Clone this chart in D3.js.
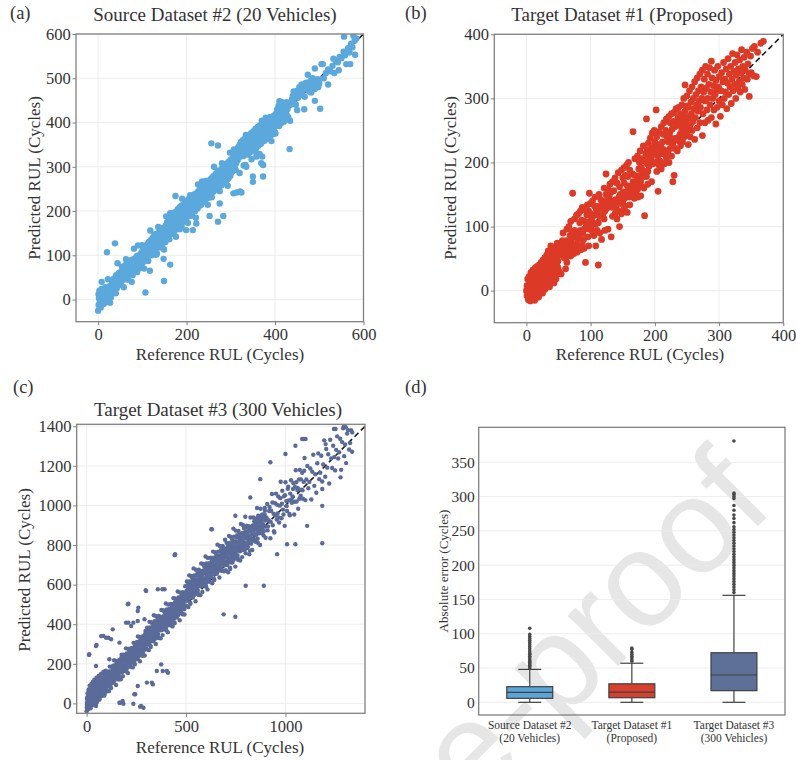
<!DOCTYPE html>
<html>
<head>
<meta charset="utf-8">
<script src="https://cdn.jsdelivr.net/npm/d3@7"></script>
<style>
  body { margin: 0; background: #ffffff; }
  svg { display: block; }
  svg text { font-family: "Liberation Serif", "Times New Roman", Times, serif; }
</style>
</head>
<body>
<svg id="fig" width="796" height="760"></svg>
<script>
// ---------------------------------------------------------------
// Data: [reference RUL, predicted RUL] in cycles
// ---------------------------------------------------------------
const sourcePoints = [
  [0,-25],[1,-12],[2,3],[1,12],[3,20],[4,-5],[5,8],[6,15],[6,-18],[7,2],[8,24],[9,-8],[10,10],[10,0],[11,18],[12,-10],[13,5],[14,22],[15,-3],[15,12],[16,28],[17,6],[18,-6],[19,15],[20,22],[21,3],[22,12],[23,26],[24,8],[25,18],[26,30],[27,14],[28,22],[29,5],[30,32],[20,107],[38,127],
  [31,20],[32,38],[33,28],[34,45],[35,15],[36,35],[38,48],[39,30],[40,42],[41,55],[42,25],[43,38],[45,52],[46,40],[47,60],[48,33],[50,48],[51,62],[52,40],[53,55],[55,68],[56,45],[57,58],[58,72],[60,50],[61,64],[62,78],[63,56],[65,70],[66,60],[67,82],[68,52],[70,74],[71,64],[72,86],[73,60],[75,78],[76,68],[77,90],[78,55],[80,82],[81,72],[82,92],[83,65],[85,85],[86,75],[87,98],[88,62],[90,88],[91,78],[92,100],[93,70],[95,92],[96,82],[97,104],[98,75],[100,95],[100,110],
  [101,84],[102,105],[103,118],[104,92],[105,112],[106,100],[107,16],[108,122],[109,96],[110,110],[111,125],[112,102],[113,88],[114,118],[115,130],[116,106],[117,65],[118,122],[119,110],[120,135],[121,100],[122,126],[123,115],[124,140],[125,108],[126,130],[127,120],[128,142],[129,112],[130,132],[131,124],[132,148],[133,104],[134,136],[135,126],[136,150],[137,118],[138,140],[139,130],[140,155],[141,120],[142,145],[143,134],[144,160],[145,124],[146,148],[148,92],[149,42],[150,140],[150,162],[151,152],[152,130],[153,168],[154,145],[155,158],[156,175],[157,140],[158,165],[159,152],[160,180],[161,136],[162,170],[163,79],[163,158],[164,185],[165,148],[166,175],[167,162],[168,190],[169,150],[170,180],[171,168],[172,195],[173,155],[174,185],[175,234],[175,172],[176,198],[177,160],[178,188],[179,176],[180,204],[181,160],[182,192],[183,180],[184,208],[185,168],[186,196],[187,184],[188,212],[189,165],[190,200],[191,188],[192,214],[193,176],[194,204],[195,192],[196,218],[197,180],[198,208],[199,157],[199,196],[200,222],[200,185],
  [202,206],[203,194],[204,226],[205,212],[206,200],[207,230],[208,216],[209,190],[210,220],[211,208],[212,234],[213,218],[214,157],[215,204],[216,228],[217,214],[218,238],[219,200],[220,224],[221,212],[222,172],[222,240],[223,218],[224,228],[225,206],[226,244],[227,222],[228,232],[229,212],[230,248],[231,226],[232,236],[233,214],[234,252],[235,230],[236,240],[237,220],[238,256],[239,234],[240,244],[241,222],[242,260],[243,238],[244,248],[245,228],[246,264],[247,242],[248,252],[249,230],[250,268],[251,246],[252,189],[252,256],[253,236],[254,272],[255,250],[256,353],[256,260],[257,240],[258,276],[259,254],[260,264],[261,244],[262,280],[263,258],[264,268],[265,248],[266,284],[267,262],[268,272],[269,250],[270,288],[271,348],[271,176],[272,266],[273,278],[274,254],[275,217],[275,292],[276,270],[278,282],[279,258],[280,296],[281,274],[282,286],[283,189],[283,262],[284,300],[285,278],[286,290],[287,266],[288,304],[289,282],[290,294],[291,270],[292,308],[293,286],[294,298],[295,274],[296,312],[297,290],[298,302],[299,280],[300,316],[300,295],
  [302,306],[303,290],[304,320],[305,300],[306,240],[307,312],[308,326],[309,298],[310,318],[311,334],[312,308],[313,242],[313,322],[314,340],[315,314],[316,328],[317,344],[318,320],[319,334],[320,350],[321,244],[321,326],[322,340],[323,356],[324,242],[324,330],[325,346],[326,336],[327,360],[328,324],[329,342],[330,352],[331,334],[332,364],[333,304],[333,346],[334,356],[335,300],[335,338],[336,368],[337,350],[338,328],[339,360],[340,342],[341,372],[342,354],[343,332],[344,364],[345,346],[346,376],[347,358],[348,336],[349,368],[350,266],[350,278],[350,350],[351,380],[352,362],[353,340],[354,372],[355,354],[356,386],[357,366],[358,323],[358,344],[359,376],[360,358],[361,390],[362,370],[363,348],[364,380],[365,362],[366,394],[367,374],[368,352],[369,308],[370,384],[371,323],[371,366],[372,396],[373,304],[373,278],[374,378],[375,358],[376,388],[377,370],[378,400],[379,382],[380,362],[381,392],[382,374],[383,404],[384,386],[385,366],[386,396],[387,378],[388,408],[389,390],[390,370],[391,400],[392,382],[393,412],[394,394],[395,374],[396,404],[397,386],[398,416],[399,398],[400,378],[400,408],
  [402,420],[403,395],[404,412],[405,430],[406,400],[407,418],[408,438],[409,392],[410,424],[411,410],[412,442],[413,398],[414,428],[415,416],[416,446],[417,404],[418,432],[419,420],[420,402],[421,436],[422,412],[423,426],[425,440],[426,418],[428,430],[430,412],[433,340],[435,440],[438,452],[440,460],[442,448],[445,466],[447,440],[450,472],[452,456],[455,480],[457,462],[460,486],[462,470],[465,478],[467,458],[470,490],[472,476],[475,484],[477,470],[480,494],[482,480],[485,500],[487,486],[490,449],[490,476],[492,492],[495,482],[497,498],[500,488],[502,431],[505,532],[510,500],[515,512],[520,520],[525,516],[530,528],[534,512],[538,540],[542,536],[546,548],[550,545],[555,560],[558,552],[561,532],[565,568],[568,560],[570,532],[572,578],[575,570],[577,596],[580,585],[581,553],[584,590],
  [8,40],[14,-4],[22,46],[27,-7],[34,46],[40,14],[44,82],[49,39],[54,74],[58,28],[63,91],[67,45],[72,88],[76,40],[81,115],[86,72],
  [90,122],[95,77],[99,123],[104,70],[108,120],[113,87],[118,156],[122,112],[127,147],[131,101],[136,164],[140,118],[145,161],[149,113],[154,188],[158,144],
  [163,195],[167,149],[172,196],[176,142],[181,193],[185,159],[190,228],[194,184],[199,219],[203,173],[208,236],[212,190],[217,233],[221,185],[226,260],[230,216],
  [235,267],[239,221],[244,268],[248,214],[253,265],[257,231],[262,300],[266,256],[271,291],[275,245],[280,308],[284,262],[289,305],[293,257],[298,332],[302,288],
  [307,339],[311,293],[316,340],[320,286],[325,337],[329,303],[334,372],[338,328],[343,363],[347,317],[352,380],[356,334],[361,377],[365,329],[370,404],[374,360],
  [379,411],[383,365],[388,412],[392,358],[397,409],[401,375],[410,448],[418,408],[426,446],[434,404],[442,470],[450,428],[458,474],[466,430],[474,508],[482,468],[490,522],[498,480],[508,532],[520,486],[532,544],[544,518],[556,594],[568,558]
];

const targetPoints = [
  [0,0],[1,8],[1,-8],[2,18],[2,-3],[3,5],[3,-14],[4,22],[4,10],[5,-10],[5,2],[6,15],[6,-16],[7,28],[7,6],[8,-5],[8,12],[9,-12],[9,20],[10,3],[10,32],[11,-8],[11,14],[12,24],[12,0],[13,-15],[13,10],[14,36],[14,18],[15,4],[15,-6],[16,26],[16,12],[17,38],[17,-2],[18,20],[18,8],[19,30],[19,-10],[20,14],[20,40],[21,24],[21,2],[22,34],[22,16],[23,6],[23,44],[24,26],[24,12],[25,36],[25,-4],[26,20],[26,48],[27,30],[27,8],[28,40],[28,18],[29,52],[29,2],[30,28],[30,44],[31,14],[31,36],[32,56],[32,22],[33,10],[33,42],[34,30],[34,62],[35,18],[35,48],[36,36],[36,6],[37,54],[37,26],[38,70],[38,40],[39,16],[39,58],[40,32],[40,46],[41,64],[41,22],[42,50],[42,38],[43,12],[43,58],[44,28],[44,44],[45,68],[45,34],[46,52],[46,18],[47,40],[47,60],[48,26],[48,74],[49,46],[49,36],[50,56],[50,64],
  [51,30],[52,70],[53,58],[54,26],[55,66],[56,78],[57,60],[58,52],[59,72],[60,62],[61,50],[62,78],[63,96],[64,68],[65,56],[66,74],[67,62],[68,86],[69,54],[70,78],[71,92],[72,152],[72,70],[73,84],[74,58],[75,94],[76,66],[77,86],[78,72],[79,60],[80,80],[81,68],[82,88],[83,106],[84,94],[85,64],[86,110],[87,72],[88,90],[89,80],[90,96],[91,108],[92,126],[92,44],[93,100],[94,118],[95,134],[96,84],[97,70],[98,152],[98,96],[99,108],[100,120],
  [57,90],[61,34],[63,44],[66,100],[69,108],[75,112],[78,118],[81,120],[84,124],[87,130],[90,66],[97,124],[100,136],
  [101,100],[102,114],[103,92],[104,106],[105,86],[106,132],[107,118],[108,104],[109,126],[110,94],[111,120],[112,40],[112,106],[113,132],[114,116],[115,128],[116,142],[117,80],[118,134],[119,118],[120,130],[121,112],[122,124],[123,138],[124,150],[125,128],[126,142],[127,158],[128,134],[129,148],[130,166],[131,138],[132,154],[133,130],[134,116],[135,140],[136,156],[137,134],[138,120],[139,142],[140,128],[141,112],[142,138],[143,124],[144,146],[145,162],[146,150],[147,136],[148,120],[149,148],[150,138],
  [103,140],[107,146],[108,70],[113,150],[114,90],[121,160],[122,94],[124,182],[127,96],[132,84],[134,170],[138,176],[141,168],[143,184],[145,100],[148,188],[150,176],
  [151,154],[152,168],[153,144],[154,180],[155,152],[156,196],[157,164],[158,178],[159,160],[160,146],[161,188],[162,156],[163,148],[164,164],[165,182],[166,248],[166,170],[167,152],[168,166],[169,180],[170,160],[171,150],[172,168],[173,158],[174,174],[175,190],[176,200],[177,180],[178,170],[179,192],[180,162],[181,186],[182,226],[183,178],[184,117],[184,202],[185,186],[186,214],[187,268],[187,178],[188,198],[189,186],[190,208],[191,194],[192,216],[193,238],[194,206],[195,222],[196,212],[197,198],[198,224],[199,250],[200,216],
  [151,126],[152,192],[154,132],[157,122],[159,200],[161,134],[168,144],[169,206],[173,210],[174,146],[177,218],[178,148],[180,206],[183,160],[188,220],[189,166],[190,230],[195,170],[196,246],[200,232],
  [201,200],[202,282],[202,222],[203,186],[204,210],[205,155],[205,228],[206,196],[207,218],[208,202],[209,226],[210,190],[211,214],[212,232],[213,244],[214,220],[215,198],[216,212],[217,250],[218,206],[219,240],[220,216],[221,232],[222,200],[223,246],[224,222],[225,238],[226,210],[227,252],[228,170],[228,230],[229,264],[230,180],[230,278],[231,222],[232,256],[233,238],[234,262],[235,218],[236,270],[237,234],[238,258],[239,244],[240,276],[241,264],[242,290],[243,232],[244,272],[245,256],[246,240],[247,280],[247,321],[248,262],[249,246],[250,268],
  [203,240],[206,248],[210,256],[214,262],[218,268],[222,272],[224,262],[226,276],[233,284],[237,286],[240,226],[242,250],[245,300],[249,288],[250,304],
  [251,250],[252,286],[252,228],[253,272],[254,312],[255,258],[255,240],[256,294],[257,276],[258,318],[258,250],[259,264],[260,300],[261,284],[262,236],[262,326],[263,270],[264,306],[265,290],[266,254],[266,332],[267,280],[268,312],[269,296],[270,262],[270,338],[271,286],[272,318],[273,300],[274,242],[274,344],[275,276],[276,310],[277,330],[278,262],[278,296],[279,350],[280,316],[281,282],[282,338],[282,300],[283,266],[284,322],[285,348],[286,290],[287,310],[288,270],[288,358],[289,332],[290,300],[291,320],[292,282],[293,344],[294,306],[295,260],[295,328],[296,312],[297,286],[298,350],[299,318],[300,296],[300,334],
  [302,272],[303,312],[304,340],[305,290],[306,326],[307,356],[308,300],[309,330],[310,310],[311,346],[312,284],[313,324],[314,362],[315,306],[316,338],[317,318],[318,350],[319,292],[320,330],[321,370],[322,312],[323,342],[324,322],[325,356],[326,300],[327,336],[328,368],[329,316],[330,346],[331,326],[332,360],[333,310],[334,340],[335,376],[336,322],[337,350],[338,332],[339,364],[340,314],[341,344],[343,372],[344,330],[345,354],[347,303],[347,338],[349,366],[350,340],[352,378],[354,335],[355,381],[358,334],[360,372],[365,386],[369,389]
];

const fleetPoints = [
  [0,-40],[1,-20],[2,5],[3,30],[4,-10],[5,50],[6,15],[7,-30],[8,40],[9,0],[10,70],[11,22],[12,-15],[13,55],[14,10],[15,90],[16,35],[17,-5],[18,65],[19,20],[20,-25],[21,45],[22,80],[23,5],[24,30],[25,100],[26,55],[27,-10],[28,40],[29,75],[30,15],[31,60],[32,110],[33,25],[34,-5],[35,85],[36,45],[37,10],[38,70],[39,120],[40,30],[41,55],[42,95],[43,0],[44,65],[45,40],[46,105],[47,20],[48,80],[49,55],[50,130],[51,35],[52,75],[53,10],[54,95],[55,60],[56,40],[57,115],[58,70],[59,25],[60,90],[61,140],[62,50],[63,80],[64,30],[65,105],[66,65],[67,45],[68,125],[69,85],[70,35],[71,100],[72,60],[73,150],[74,75],[75,45],[76,110],[77,90],[78,55],[79,130],[80,70],[81,100],[82,40],[83,120],[84,85],[85,160],[86,60],[87,95],[88,135],[89,75],[90,110],[91,50],[92,145],[93,90],[94,70],[95,120],[96,165],[97,80],[98,105],[99,60],[100,140],
  [2,25],[5,-15],[8,15],[11,50],[14,-20],[17,30],[20,60],[23,-5],[26,25],[29,45],[32,0],[35,35],[38,95],[41,20],[44,90],[47,50],[50,5],[53,60],[56,100],[59,45],[62,85],[65,20],[68,75],[71,130],[74,45],[77,65],[80,115],[83,60],[86,100],[89,40],[92,80],[95,140],[98,90],[3,-25],[9,45],[18,-10],[27,70],[36,20],[45,-5],[54,120],
  [1,-7],[5,25],[9,56],[13,20],[17,44],[21,1],[25,59],[29,41],[33,85],[37,37],[41,33],[45,65],[49,96],[53,60],[57,84],[61,41],[65,99],[69,81],[73,125],[77,77],[81,73],[85,105],[89,136],[93,100],[97,124],
  [100,65],[102,122],[104,159],[106,96],[108,113],[110,150],[112,62],[114,139],[116,186],[118,98],[120,130],[122,77],[124,159],[126,186],[128,113],[130,130],[132,177],[134,104],[136,151],[138,218],[140,115],[142,192],[144,139],[146,176],[148,93],[150,215],[152,162],[154,134],[156,196],[158,163],[160,125],[162,182],[164,219],[166,156],[168,173],[170,210],[172,122],[174,199],[176,246],[178,158],[180,190],[182,137],[184,219],[186,246],[188,173],[190,190],[192,237],[194,164],[196,211],[198,278],
  [200,175],[202,252],[204,199],[206,236],[208,153],[210,275],[212,222],[214,194],[216,256],[218,223],[220,185],[222,242],[224,279],[226,216],[228,233],[230,270],[232,182],[234,259],[236,306],[238,218],[240,250],[242,197],[244,279],[246,306],[248,233],[250,250],[252,297],[254,224],[256,271],[258,338],[260,235],[262,312],[264,259],[266,296],[268,213],[270,335],[272,282],[274,254],[276,316],[278,283],[280,245],[282,302],[284,339],[286,276],[288,293],[290,330],[292,242],[294,319],[296,366],[298,278],
  [101,116],[105,85],[109,139],[113,108],[117,162],[121,81],[125,125],[129,154],[133,118],[137,172],[141,156],[145,125],[149,179],[153,148],[157,202],[161,121],[165,165],[169,194],[173,158],[177,212],[181,196],[185,165],[189,219],[193,188],[197,242],[201,161],[205,205],[209,234],[213,198],[217,252],[221,236],[225,205],[229,259],[233,228],[237,282],[241,201],[245,245],[249,274],[253,238],[257,292],[261,276],[265,245],[269,299],[273,268],[277,322],[281,241],[285,285],[289,314],[293,278],[297,332],
  [103,118],[107,95],[111,139],[115,117],[119,159],[123,118],[127,149],[131,111],[135,169],[139,149],[143,141],[147,183],[151,159],[155,179],[159,144],[163,208],[167,185],[171,163],[175,205],[179,183],[183,198],[187,175],[191,219],[195,197],[199,239],[203,198],[207,229],[211,191],[215,249],[219,229],[223,221],[227,263],[231,239],[235,259],[239,224],[243,288],[247,265],[251,243],[255,285],[259,263],[263,278],[267,255],[271,299],[275,277],[279,319],[283,278],[287,309],[291,271],[295,329],[299,309],
  [102,92],[106,127],[110,160],[114,121],[118,147],[122,99],[126,162],[130,143],[134,190],[138,137],[142,132],[146,167],[150,200],[154,161],[158,187],[162,139],[166,202],[170,183],[174,230],[178,177],[182,172],[186,207],[190,240],[194,201],[198,227],[202,179],[206,242],[210,223],[214,270],[218,217],[222,212],[226,247],[230,280],[234,241],[238,267],[242,219],[246,282],[250,263],[254,310],[258,257],[262,252],[266,287],[270,320],[274,281],[278,307],[282,259],[286,322],[290,303],[294,350],[298,297],
  [300,275],[302,340],[304,382],[306,309],[308,329],[310,371],[312,269],[314,358],[316,412],[318,310],[320,347],[322,285],[324,379],[326,410],[328,326],[330,345],[332,399],[334,314],[336,368],[338,445],[340,326],[342,415],[344,353],[346,396],[348,300],[350,440],[352,379],[354,346],[356,417],[358,379],[360,335],[362,400],[364,442],[366,369],[368,389],[370,431],[372,329],[374,418],[376,472],[378,370],[380,407],[382,345],[384,439],[386,470],[388,386],[390,405],[392,459],[394,374],[396,428],[398,505],
  [400,386],[402,475],[404,413],[406,456],[408,360],[410,500],[412,439],[414,406],[416,477],[418,439],[420,395],[422,460],[424,502],[426,429],[428,449],[430,491],[432,389],[434,478],[436,532],[438,430],[440,467],[442,405],[444,499],[446,530],[448,446],[450,465],[452,519],[454,434],[456,488],[458,565],[460,446],[462,535],[464,473],[466,516],[468,420],[470,560],[472,499],[474,466],[476,537],[478,499],[480,455],[482,520],[484,562],[486,489],[488,509],[490,551],[492,449],[494,538],[496,592],[498,490],
  [301,333],[305,297],[309,359],[313,322],[317,384],[321,290],[325,340],[329,373],[333,331],[337,392],[341,373],[345,337],[349,399],[353,362],[357,424],[361,330],[365,380],[369,413],[373,371],[377,432],[381,413],[385,377],[389,439],[393,402],[397,464],[401,370],[405,420],[409,453],[413,411],[417,472],[421,453],[425,417],[429,479],[433,442],[437,504],[441,410],[445,460],[449,493],[453,451],[457,512],[461,493],[465,457],[469,519],[473,482],[477,544],[481,450],[485,500],[489,533],[493,491],[497,552],
  [303,329],[307,302],[311,352],[315,326],[319,374],[323,326],[327,361],[331,316],[335,383],[339,359],[343,349],[347,397],[351,369],[355,391],[359,350],[363,423],[367,396],[371,370],[375,418],[379,392],[383,409],[387,382],[391,432],[395,406],[399,454],[403,406],[407,441],[411,396],[415,463],[419,439],[423,429],[427,477],[431,449],[435,471],[439,430],[443,503],[447,476],[451,450],[455,498],[459,472],[463,489],[467,462],[471,512],[475,486],[479,534],[483,486],[487,521],[491,476],[495,543],[499,519],
  [302,298],[310,340],[318,380],[326,340],[334,372],[342,324],[350,396],[358,378],[366,434],[374,380],[382,378],[390,420],[398,460],[406,420],[414,452],[422,404],[430,476],[438,458],[446,514],[454,460],[462,458],[470,500],[478,540],[486,500],[494,532],
  [500,494],[502,568],[504,616],[506,533],[508,555],[510,602],[512,487],[514,587],[516,647],[518,532],[520,573],[522,503],[524,610],[526,644],[528,548],[530,570],[532,631],[534,535],[536,596],[538,682],[540,547],[542,647],[544,577],[546,625],[548,516],[550,675],[552,605],[554,568],[556,648],[558,605],[560,554],[562,628],[564,676],[566,593],[568,615],[570,662],[572,547],[574,647],[576,707],[578,592],[580,633],[582,563],[584,670],[586,704],[588,608],[590,630],[592,691],[594,595],[596,656],[598,742],
  [600,607],[602,707],[604,637],[606,685],[608,576],[610,735],[612,665],[614,628],[616,708],[618,665],[620,614],[622,688],[624,736],[626,653],[628,675],[630,722],[632,607],[634,707],[636,767],[638,652],[640,693],[642,623],[644,730],[646,764],[648,668],[650,690],[652,751],[654,655],[656,716],[658,802],[660,667],[662,767],[664,697],[666,745],[668,636],[670,795],[672,725],[674,688],[676,768],[678,725],[680,674],[682,748],[684,796],[686,713],[688,735],[690,782],[692,667],[694,767],[696,827],[698,712],
  [501,561],[505,519],[509,588],[513,546],[517,616],[521,509],[525,565],[529,602],[533,553],[537,623],[541,601],[545,559],[549,628],[553,586],[557,656],[561,549],[565,605],[569,642],[573,593],[577,663],[581,641],[585,599],[589,668],[593,626],[597,696],[601,589],[605,645],[609,682],[613,633],[617,703],[621,681],[625,639],[629,708],[633,666],[637,736],[641,629],[645,685],[649,722],[653,673],[657,743],[661,721],[665,679],[669,748],[673,706],[677,776],[681,669],[685,725],[689,762],[693,713],[697,783],
  [503,555],[507,523],[511,579],[515,550],[519,603],[523,549],[527,588],[531,537],[535,611],[539,584],[543,572],[547,626],[551,593],[555,618],[559,572],[563,653],[567,622],[571,593],[575,646],[579,616],[583,635],[587,603],[591,659],[595,630],[599,683],[603,629],[607,668],[611,617],[615,691],[619,664],[623,652],[627,706],[631,673],[635,698],[639,652],[643,733],[647,702],[651,673],[655,726],[659,696],[663,715],[667,683],[671,739],[675,710],[679,763],[683,709],[687,748],[691,697],[695,771],[699,744],
  [700,673],[702,757],[704,811],[706,716],[708,741],[710,795],[712,662],[714,777],[716,846],[718,713],[720,760],[722,679],[724,801],[726,841],[728,731],[730,755],[732,825],[734,714],[736,783],[738,883],[740,727],[742,842],[744,761],[746,816],[748,691],[750,873],[752,792],[754,749],[756,841],[758,791],[760,733],[762,817],[764,871],[766,776],[768,801],[770,855],[772,722],[774,837],[776,906],[778,773],[780,820],[782,739],[784,861],[786,901],[788,791],[790,815],[792,885],[794,774],[796,843],[798,943],
  [701,748],[705,700],[709,779],[713,730],[717,810],[721,686],[725,750],[729,792],[733,736],[737,814],[741,788],[745,740],[749,819],[753,770],[757,850],[761,726],[765,790],[769,832],[773,776],[777,854],[781,828],[785,780],[789,859],[793,810],[797,890],
  [703,735],[707,699],[711,763],[715,728],[719,789],[723,725],[727,770],[731,711],[735,796],[739,764],[743,750],[747,811],[751,773],[755,801],[759,747],[763,840],[767,804],[771,769],[775,830],[779,795],[783,815],[787,779],[791,843],[795,808],[799,869],[803,805],[807,850],[811,791],[815,876],[819,844],[823,830],[827,891],[831,853],[835,881],[839,827],[843,920],[847,884],[851,849],[855,910],[859,875],[863,895],[867,859],[871,923],[875,888],[879,949],[883,885],[887,930],[891,871],[895,956],[899,924],
  [800,758],[803,843],[806,898],[809,804],[812,830],[815,885],[818,753],[821,869],[824,939],[827,807],[830,855],[833,775],[836,898],[839,939],[842,830],[845,855],[848,926],[851,816],[854,886],[857,987],[860,832],[863,948],[866,868],[869,924],[872,800],[875,983],[878,903],[881,861],[884,954],[887,905],[890,848],[893,933],[896,988],[899,894],
  [801,833],[805,785],[809,864],[813,815],[817,895],[821,771],[825,835],[829,877],[833,821],[837,899],[841,873],[845,825],[849,904],[853,855],[857,935],[861,811],[865,875],[869,917],[873,861],[877,939],[881,913],[885,865],[889,944],[893,895],[897,975],
  [900,837],[904,940],[908,1007],[912,894],[916,925],[920,992],[924,834],[928,973],[932,1058],[936,900],[940,958],[944,863],[948,1011],[952,1060],[956,929],[960,960],[964,1045],[968,914],[972,999],[976,1120],[980,935],[984,1074],[988,979],[992,1046],[996,897],[1000,1117],[1004,1022],[1008,972],[1012,1084],[1016,1025],[1020,957],[1024,1060],[1028,1127],[1032,1014],[1036,1045],[1040,1112],[1044,954],[1048,1093],[1052,1178],[1056,1020],[1060,1078],[1064,983],[1068,1131],[1072,1180],[1076,1049],[1080,1080],[1084,1165],[1088,1034],[1092,1119],[1096,1240],
  [902,929],[910,874],[918,972],[926,917],[934,1015],[942,870],[950,950],[958,1003],[966,939],[974,1037],[982,1009],[990,954],[998,1052],[1006,997],[1014,1095],[1022,950],[1030,1030],[1038,1083],[1046,1019],[1054,1117],[1062,1089],[1070,1034],[1078,1132],[1086,1077],[1094,1175],
  [1100,1027],[1105,1131],[1110,1199],[1115,1087],[1120,1119],[1125,1187],[1130,1030],[1135,1170],[1140,1256],[1145,1099],[1150,1158],[1155,1064],[1160,1213],[1165,1263],[1170,1133],[1175,1165],[1180,1251],[1185,1121],[1190,1207],[1195,1329],[1200,1145],[1205,1285],[1210,1191],[1215,1259],[1220,1111],[1225,1332],[1230,1238],[1235,1189],[1240,1302],[1245,1244],[1250,1177],[1255,1281],[1260,1349],[1265,1237],[1270,1269],[1275,1337],[1280,1180],[1285,1320],[1290,1390],[1295,1249],[1300,1308],[1305,1214],[1310,1363],[1315,1380],[1320,1283],[1325,1315],[1330,1380],[1335,1271],
  [12,245],[50,295],[84,341],[109,332],[13,248],[47,290],[73,340],[98,332],[123,324],[47,189],[114,223],[131,374],[165,307],[198,408],[224,391],[257,416],[291,425],[210,408],[235,408],[210,504],[299,568],[358,577],[392,577],[297,572],[443,749],[445,754],[207,501],[257,467],[260,484],[381,577],[630,880],[627,880],
  [165,3],[181,12],[168,3],[185,-2],[235,-2],[274,-13],[269,-17],[286,-22],[47,-13],[240,46],[244,46],[257,88],[333,96],[303,105],[328,105],[383,164],[409,155],[353,164],[403,164],[375,197],[748,438],[689,450],[800,594],[891,594],[958,754],[1050,804],[1008,804],[1185,809],[1109,897],
  [748,948],[823,1040],[873,1133],[924,1218],[1000,1260],[1050,1302],[1092,1336],[1084,1336],[1101,1336],[1202,1310],[1252,1386],[1303,1395],[1294,1398],[1244,1386],[1336,1369],[1277,1142],[1185,1083],[1185,998]
];

// Absolute-error distributions (cycles)
const boxCategories = [
  ["Source Dataset #2", "(20 Vehicles)"],
  ["Target Dataset #1", "(Proposed)"],
  ["Target Dataset #3", "(300 Vehicles)"]
];
const boxQ1 = [5.8, 6.7, 17];
const boxMedian = [14.6, 15, 39.8];
const boxQ3 = [22.8, 27, 72.3];
const whiskerLow = [0, 0, 0];
const whiskerHigh = [48, 57, 156];
const boxOutliers = [
  [108, 99, 96, 93, 90, 87, 84, 81, 78, 75, 72, 70, 67, 65, 62, 60, 58, 56, 54, 52, 50],
  [79, 77, 73, 70, 67, 65, 62, 60],
  [381, 305, 303, 300, 297, 287, 280, 273, 268, 262, 256, 252, 248, 244, 240, 236, 232, 228, 224, 220,
   216, 212, 208, 204, 200, 196, 192, 188, 184, 180, 176, 172, 168, 164, 160]
];

// Tick values
const sourceTicks = [0, 100, 200, 300, 400, 500, 600];
const sourceTicksX = [0, 200, 400, 600];
const targetTicks = [0, 100, 200, 300, 400];
const fleetTicksX = [0, 500, 1000];
const fleetTicksY = [0, 200, 400, 600, 800, 1000, 1200, 1400];
const errorTicks = [0, 50, 100, 150, 200, 250, 300, 350];

// ---------------------------------------------------------------
// Styling
// ---------------------------------------------------------------
const SERIF = '"Liberation Serif", "Times New Roman", Times, serif';
const INK = "#333333";
const SPINE = "#808080";
const GRID = "#ebebeb";

const svg = d3.select("#fig");
const defs = svg.append("defs");

// faint diagonal watermark behind the figure
svg.append("text")
  .attr("transform", "translate(776,508) rotate(-45)")
  .attr("text-anchor", "end")
  .style("font-family", '"Liberation Sans", Arial, sans-serif')
  .attr("font-size", 135)
  .attr("fill", "#e6e6e6")
  .text("Journal Pre-proof");

function styleAxis(sel, fontSize) {
  sel.select(".domain").remove();
  sel.attr("font-family", null);
  sel.selectAll(".tick line").attr("stroke", SPINE).attr("stroke-width", 1);
  sel.selectAll(".tick text")
    .attr("fill", INK)
    .style("font-family", SERIF)
    .attr("font-size", fontSize);
}

function addText(x, y, str, opts = {}) {
  const t = svg.append("text")
    .attr("x", x).attr("y", y)
    .style("font-family", SERIF)
    .attr("font-size", opts.size || 16)
    .attr("fill", INK)
    .attr("text-anchor", opts.anchor || "middle")
    .text(str);
  if (opts.rotate) {
    t.attr("transform", `rotate(-90,${x},${y})`).attr("dominant-baseline", "central");
  }
  return t;
}

function scatterPanel(cfg) {
  const x = d3.scaleLinear().domain(cfg.xDomain).range([cfg.left, cfg.right]);
  const y = d3.scaleLinear().domain(cfg.yDomain).range([cfg.bottom, cfg.top]);
  const g = svg.append("g");

  // grid
  g.append("g").selectAll("line").data(cfg.xTicks).join("line")
    .attr("x1", d => x(d)).attr("x2", d => x(d))
    .attr("y1", cfg.top).attr("y2", cfg.bottom)
    .attr("stroke", GRID).attr("stroke-width", 0.9);
  g.append("g").selectAll("line").data(cfg.yTicks).join("line")
    .attr("y1", d => y(d)).attr("y2", d => y(d))
    .attr("x1", cfg.left).attr("x2", cfg.right)
    .attr("stroke", GRID).attr("stroke-width", 0.9);

  const clipId = "clip-" + cfg.id;
  defs.append("clipPath").attr("id", clipId).append("rect")
    .attr("x", cfg.left).attr("y", cfg.top)
    .attr("width", cfg.right - cfg.left).attr("height", cfg.bottom - cfg.top);

  const plot = g.append("g").attr("clip-path", `url(#${clipId})`);

  // identity line y = x
  plot.append("line")
    .attr("x1", x(0)).attr("y1", y(0))
    .attr("x2", x(cfg.identityMax)).attr("y2", y(cfg.identityMax))
    .attr("stroke", "#1a1a1a").attr("stroke-width", 1.6)
    .attr("stroke-dasharray", "5.5,3.5");

  plot.append("g").selectAll("circle").data(cfg.points).join("circle")
    .attr("cx", d => x(d[0])).attr("cy", d => y(d[1]))
    .attr("r", cfg.r).attr("fill", cfg.color);

  // frame
  g.append("rect")
    .attr("x", cfg.left).attr("y", cfg.top)
    .attr("width", cfg.right - cfg.left).attr("height", cfg.bottom - cfg.top)
    .attr("fill", "none").attr("stroke", SPINE).attr("stroke-width", 1.3);

  // axes
  const ax = g.append("g").attr("transform", `translate(0,${cfg.bottom})`)
    .call(d3.axisBottom(x).tickValues(cfg.xTicks).tickSize(3.5).tickPadding(3.4).tickFormat(d3.format("d")));
  styleAxis(ax, 16.5);
  const ay = g.append("g").attr("transform", `translate(${cfg.left},0)`)
    .call(d3.axisLeft(y).tickValues(cfg.yTicks).tickSize(3.5).tickPadding(1.8).tickFormat(d3.format("d")));
  styleAxis(ay, 16.5);

  addText(cfg.titleX, cfg.titleY, cfg.title, { size: 19 });
  addText(cfg.xLabelX, cfg.xLabelY, "Reference RUL (Cycles)", { size: 17 });
  addText(cfg.yLabelX, cfg.yLabelY, "Predicted RUL (Cycles)", { size: 17, rotate: true });
  addText(cfg.tagX, cfg.tagY, cfg.tag, { size: 18.5, anchor: "start" });
}

scatterPanel({
  id: "a", points: sourcePoints, color: "#5ba8dc", r: 3.2,
  left: 76, right: 363.5, top: 34, bottom: 321.7,
  xDomain: [-50, 600], yDomain: [-50, 600], identityMax: 600,
  xTicks: sourceTicksX, yTicks: sourceTicks,
  title: "Source Dataset #2 (20 Vehicles)", titleX: 215, titleY: 21,
  xLabelX: 220, xLabelY: 359.5, yLabelX: 34, yLabelY: 178,
  tag: "(a)", tagX: 10, tagY: 18.5
});

scatterPanel({
  id: "b", points: targetPoints, color: "#dc3a27", r: 3.4,
  left: 494.3, right: 783.3, top: 34.3, bottom: 322.7,
  xDomain: [-50, 400], yDomain: [-50, 400], identityMax: 400,
  xTicks: targetTicks, yTicks: targetTicks,
  title: "Target Dataset #1 (Proposed)", titleX: 622, titleY: 21,
  xLabelX: 640, xLabelY: 359.5, yLabelX: 450.5, yLabelY: 178,
  tag: "(b)", tagX: 405, tagY: 18.5
});

scatterPanel({
  id: "c", points: fleetPoints, color: "#5a6b99", r: 2.2,
  left: 76.7, right: 365, top: 424.3, bottom: 713.3,
  xDomain: [-50, 1400], yDomain: [-50, 1410], identityMax: 1400,
  xTicks: fleetTicksX, yTicks: fleetTicksY,
  title: "Target Dataset #3 (300 Vehicles)", titleX: 218, titleY: 416,
  xLabelX: 220, xLabelY: 753, yLabelX: 24, yLabelY: 570,
  tag: "(c)", tagX: 13, tagY: 393
});

// ---------------------------------------------------------------
// (d) box plots of absolute error
// ---------------------------------------------------------------
(function boxPanel() {
  const left = 478.7, right = 785, top = 427.3, bottom = 715;
  const boxColors = ["#5ba4d8", "#d5412e", "#5e6f98"];
  const LINE = "#404040";
  const x = d3.scaleBand().domain(d3.range(boxCategories.length)).range([left, right]);
  const y = d3.scaleLinear().domain([-18.5, 401]).range([bottom, top]);
  const g = svg.append("g");

  g.append("g").selectAll("line").data(errorTicks).join("line")
    .attr("x1", left).attr("x2", right)
    .attr("y1", d => y(d)).attr("y2", d => y(d))
    .attr("stroke", GRID).attr("stroke-width", 0.9);

  const bw = x.bandwidth() * 0.45;
  const capW = bw * 0.5;

  boxCategories.forEach((cat, i) => {
    const cx = x(i) + x.bandwidth() / 2;
    const bg = g.append("g");
    // whiskers
    bg.append("line").attr("x1", cx).attr("x2", cx)
      .attr("y1", y(boxQ3[i])).attr("y2", y(whiskerHigh[i]))
      .attr("stroke", LINE).attr("stroke-width", 1.2);
    bg.append("line").attr("x1", cx).attr("x2", cx)
      .attr("y1", y(boxQ1[i])).attr("y2", y(whiskerLow[i]))
      .attr("stroke", LINE).attr("stroke-width", 1.2);
    [whiskerHigh[i], whiskerLow[i]].forEach(v => {
      bg.append("line").attr("x1", cx - capW / 2).attr("x2", cx + capW / 2)
        .attr("y1", y(v)).attr("y2", y(v))
        .attr("stroke", LINE).attr("stroke-width", 1.2);
    });
    // box
    bg.append("rect")
      .attr("x", cx - bw / 2).attr("width", bw)
      .attr("y", y(boxQ3[i])).attr("height", y(boxQ1[i]) - y(boxQ3[i]))
      .attr("fill", boxColors[i]).attr("stroke", LINE).attr("stroke-width", 1.2);
    bg.append("line").attr("x1", cx - bw / 2).attr("x2", cx + bw / 2)
      .attr("y1", y(boxMedian[i])).attr("y2", y(boxMedian[i]))
      .attr("stroke", LINE).attr("stroke-width", 1.2);
    // fliers
    bg.append("g").selectAll("circle").data(boxOutliers[i]).join("circle")
      .attr("cx", cx).attr("cy", d => y(d)).attr("r", 1.8)
      .attr("fill", "#4a4a4a");
    // category label
    const t = svg.append("text")
      .style("font-family", SERIF).attr("font-size", 11.5).attr("fill", INK)
      .attr("text-anchor", "middle");
    t.append("tspan").attr("x", cx).attr("y", 729).text(cat[0]);
    t.append("tspan").attr("x", cx).attr("y", 742).text(cat[1]);
  });

  g.append("rect")
    .attr("x", left).attr("y", top)
    .attr("width", right - left).attr("height", bottom - top)
    .attr("fill", "none").attr("stroke", SPINE).attr("stroke-width", 1.3);

  const ay = g.append("g").attr("transform", `translate(${left},0)`)
    .call(d3.axisLeft(y).tickValues(errorTicks).tickSize(0).tickPadding(4).tickFormat(d3.format("d")));
  styleAxis(ay, 15.5);

  addText(443, 571, "Absolute error (Cycles)", { size: 13, rotate: true });
  addText(405, 393, "(d)", { size: 18.5, anchor: "start" });
})();
</script>
</body>
</html>
